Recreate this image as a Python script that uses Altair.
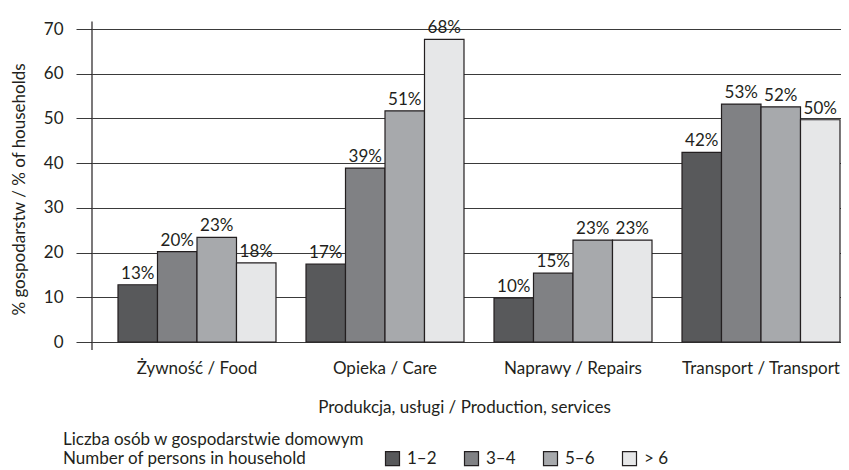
import altair as alt
import pandas as pd

categories = ["Żywność / Food", "Opieka / Care", "Naprawy / Repairs", "Transport / Transport"]
groups = ["1–2", "3–4", "5–6", "> 6"]
values = {
    "1–2": [12.8, 17.4, 9.8, 42.4],
    "3–4": [20.2, 38.9, 15.4, 53.2],
    "5–6": [23.4, 51.7, 22.8, 52.6],
    "> 6": [17.7, 67.7, 22.8, 49.7],
}
labels = {
    "1–2": ["13%", "17%", "10%", "42%"],
    "3–4": ["20%", "39%", "15%", "53%"],
    "5–6": ["23%", "51%", "23%", "52%"],
    "> 6": ["18%", "68%", "23%", "50%"],
}
colors = ["#58595b", "#808184", "#a7a9ac", "#e6e7e8"]

rows = []
for g in groups:
    for i, c in enumerate(categories):
        rows.append({"cat": c, "group": g, "value": values[g][i], "label": labels[g][i]})
df = pd.DataFrame(rows)

FONT = "Lato"
INK = "#231f20"
FS = 17

x_enc = alt.X(
    "cat:N",
    sort=categories,
    scale=alt.Scale(paddingInner=0.1596, paddingOuter=0.0718, align=0.963),
    axis=alt.Axis(
        title="Produkcja, usługi / Production, services",
        domain=False,
        ticks=False,
        labelAngle=0,
        labelBaseline="alphabetic",
        labelPadding=31,
        labelFontSize=FS,
        labelColor=INK,
        labelFont=FONT,
        titleFont=FONT,
        titleFontSize=FS,
        titleFontWeight="normal",
        titleColor=INK,
        titleBaseline="alphabetic",
        titleX=372,
        titleY=70,
        titleAnchor="start",
        titleAlign="center",
    ),
)
xoff = alt.XOffset("group:N", sort=groups, scale=alt.Scale(paddingInner=0, paddingOuter=0))

bars = alt.Chart(df).mark_bar(stroke=INK, strokeWidth=1.2).encode(
    x=x_enc,
    xOffset=xoff,
    y=alt.Y(
        "value:Q",
        scale=alt.Scale(domain=[0, 70], nice=False),
        axis=alt.Axis(
            title="% gospodarstw / % of households",
            values=[0, 10, 20, 30, 40, 50, 60, 70],
            domain=False,
            tickSize=16,
            tickColor="#3a3a3a",
            gridColor="#3a3a3a",
            gridOpacity=1,
            labelPadding=13,
            labelFontSize=FS,
            labelColor=INK,
            labelFont=FONT,
            titleFont=FONT,
            titleFontSize=FS,
            titleFontWeight="normal",
            titleColor=INK,
            titleAngle=-90,
            titleBaseline="middle",
            titleAlign="center",
            titleX=-73,
            titleY=160,
        ),
    ),
    fill=alt.Fill(
        "group:N",
        sort=groups,
        scale=alt.Scale(domain=groups, range=colors),
        legend=alt.Legend(
            title=["Liczba osób w gospodarstwie domowym", "Number of persons in household"],
            orient="none",
            legendX=-29,
            legendY=421,
            direction="horizontal",
            titleOrient="left",
            titleFont=FONT,
            titleFontSize=FS,
            titleFontWeight="normal",
            titleColor=INK,
            titleLineHeight=19,
            titlePadding=19,
            titleAnchor="end",
            titleLimit=500,
            labelFont=FONT,
            labelFontSize=FS,
            labelColor=INK,
            labelOffset=6,
            symbolType="square",
            symbolSize=196,
            symbolStrokeColor=INK,
            symbolStrokeWidth=1.2,
            symbolOpacity=1,
            columnPadding=25,
        ),
    ),
)

text = alt.Chart(df).mark_text(
    baseline="alphabetic", dy=-6, fontSize=FS, font=FONT, color=INK
).encode(
    x=alt.X("cat:N", sort=categories),
    xOffset=xoff,
    y=alt.Y("value:Q"),
    text="label:N",
)

axis_line = alt.Chart(pd.DataFrame({"k": [0]})).mark_rule(color=INK, strokeWidth=1.2).encode(
    x=alt.value(0), y=alt.value(-7.5), y2=alt.value(321)
)

chart = (
    alt.layer(bars, text, axis_line)
    .properties(
        width=749,
        height=313,
        autosize=alt.AutoSizeParams(type="none"),
        padding={"left": 84, "top": 21, "right": 0, "bottom": 128},
    )
    .configure_view(stroke=None)
    .configure_axis(grid=True)
    .configure_axisX(grid=False)
)

chart.save("out.html", embed_options={"renderer": "svg", "actions": False})
